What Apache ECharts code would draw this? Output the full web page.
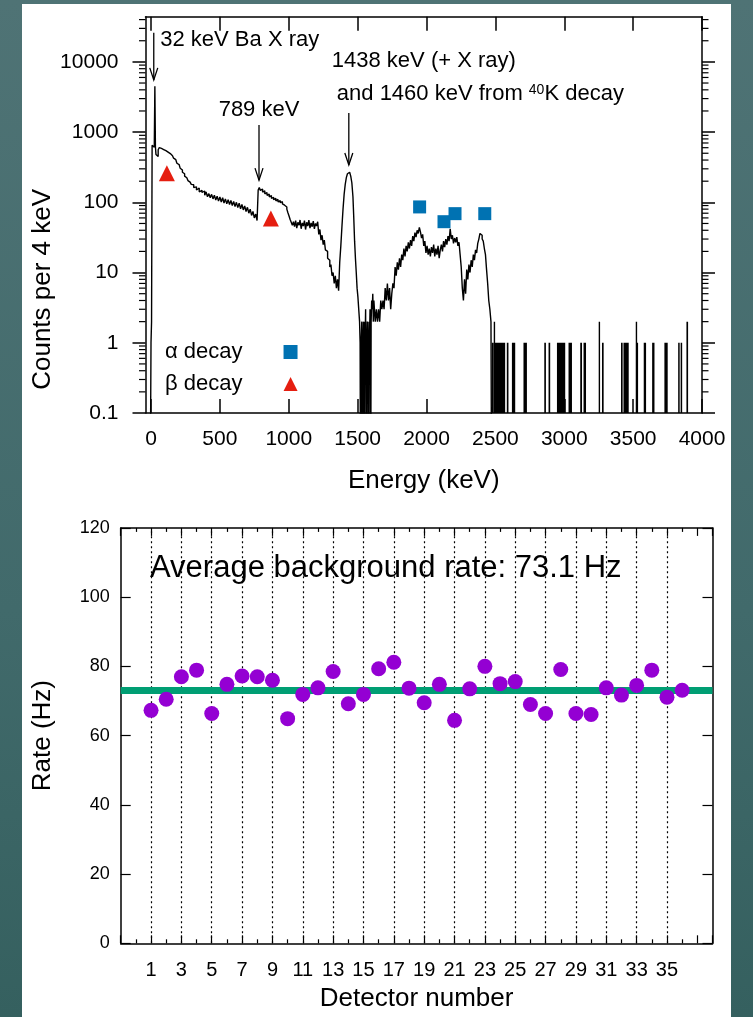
<!DOCTYPE html>
<html><head><meta charset="utf-8">
<script src="https://cdn.jsdelivr.net/npm/echarts@6/dist/echarts.min.js"></script>
<style>
html,body{margin:0;padding:0;width:753px;height:1017px;overflow:hidden;background:linear-gradient(180deg,#4f7375 0%,#416a6b 60%,#35605f 100%);}
#panel{position:absolute;left:22px;top:4px;width:709px;height:1013px;background:#fff;}
#chart{position:absolute;left:0;top:0;width:753px;height:1017px;}
</style></head><body><div id="panel"></div><div id="chart"></div>
<script>
// ---------- Top panel: energy spectrum [bin start keV, counts per 4 keV] ----------
const spectrumBins = [
 [-8,0],[0,1],[4,2],[8,650],[16,610],[24,680],[28,4500],[32,620],[36,480],[44,450],[52,560],
 [60,600],[68,585],[76,595],[84,565],[92,570],[100,545],[108,548],[116,520],[124,508],[132,495],
 [140,470],[148,462],[156,450],[164,425],[172,405],[180,385],[188,360],[196,345],[204,325],[212,305],
 [220,288],[228,268],[236,255],[244,236],[252,224],[260,210],[268,204],[276,194],[284,186],[292,180],
 [300,178],[310,162],[320,166],[330,150],[340,160],[350,141],[360,148],[370,138],[380,145],[390,126],
 [400,140],[410,120],[420,133],[430,116],[440,130],[450,112],[460,126],[470,108],[480,122],[490,104],
 [500,119],[510,101],[520,116],[530,98],[540,112],[550,95],[560,109],[570,93],[580,106],[590,90],
 [600,103],[610,87],[620,100],[630,84],[640,97],[650,81],[660,93],[670,78],[680,89],[690,74],
 [700,85],[710,70],[720,80],[730,65],[740,74],[750,60],[760,68],[770,55],
 [778,150],[786,162],[794,148],[802,155],[810,140],[818,146],[826,132],[834,138],[842,126],[850,131],
 [858,120],[866,125],[874,114],[882,118],[890,109],[898,114],[906,105],[914,110],[922,101],[930,106],
 [938,99],[946,102],[954,95],[962,91],[970,93],[978,86],[986,80],[994,71],[1002,64],[1010,57],
 [1018,52],[1026,47],[1034,53],[1042,45],[1050,55],[1058,43],[1066,52],[1074,47],[1082,56],[1090,42],
 [1098,51],[1106,46],[1114,55],[1122,41],[1130,52],[1138,46],[1146,56],[1154,43],[1162,51],[1170,45],
 [1178,54],[1186,42],[1194,50],[1202,46],[1210,53],[1218,35],[1226,41],[1234,29],[1242,34],[1250,25],
 [1258,29],[1266,21],[1274,20],[1282,16],[1290,15],[1298,12],[1306,13],[1314,9],[1322,10],[1330,7],
 [1338,9],[1346,6],[1354,8],[1362,5.5],[1370,14],[1378,24],[1386,45],[1394,80],[1402,130],[1410,180],
 [1418,225],[1426,255],[1434,268],[1442,258],[1450,236],[1458,190],[1466,120],[1472,60],[1478,28],[1484,16],
 [1490,10],[1496,6],[1502,4.5],[1508,3],[1514,2],
 [1518,1],[1522,0],[1526,1],[1530,2],[1534,0],[1538,1],[1542,2],[1546,0],[1550,2],[1554,1],
 [1558,3],[1562,0],[1566,1],[1570,2],[1574,1],[1578,0],[1582,2],[1586,1],[1590,3],[1594,0],
 [1598,2],[1602,4],[1606,3],[1610,5],[1614,2],[1618,4],[1622,3],[1628,2],[1636,3],[1644,2],
 [1652,3],[1660,2],[1668,4],
 [1676,3],[1684,4],[1692,3],[1700,6],[1708,4],[1716,7],[1724,4],[1732,6],[1740,3],[1748,5],
 [1756,7],[1764,6],[1772,12],[1780,9],[1788,14],[1796,11],[1804,16],[1812,12],[1820,18],[1828,15],
 [1836,22],[1844,17],[1852,24],[1860,20],[1868,27],[1876,22],[1884,29],[1892,24],[1900,33],[1908,28],
 [1916,37],[1924,32],[1932,40],[1940,36],[1948,44],[1956,38],[1964,31],[1972,35],[1980,24],[1988,28],
 [1996,19],[2004,24],[2012,18],[2020,22],[2028,17],[2036,23],[2044,19],[2052,25],[2060,17],[2068,22],
 [2076,18],[2084,24],[2092,16],[2100,21],[2108,25],[2116,20],[2124,28],[2132,23],[2140,30],[2148,25],
 [2156,33],[2164,28],[2172,42],[2180,30],[2188,34],[2196,26],[2204,31],[2212,27],[2220,32],[2228,24],
 [2236,27],[2244,18],[2252,12],[2260,6],[2268,4],[2276,8],[2284,5],[2292,11],[2300,8],[2308,13],
 [2316,10],[2324,15],[2332,12],[2340,18],[2348,15],[2356,21],[2364,19],[2372,26],[2380,30],[2388,36],
 [2396,34],[2404,30],[2412,28],[2420,22],[2428,18],[2436,11],[2444,7],[2452,4],[2460,3],[2468,2],[2474,0]
];
// sparse tail: runs of occupied bins [start keV, end keV, counts]
const tailStart  = [2474,2488,2492,2583,2620,2704,2855,2886,2947,3031,3116,3140,3250,3274,3412,3430,3519,3523,3577,3638,3727,3827,3845,3887];
const tailEnd    = [2488,2492,2571,2595,2644,2729,2867,2898,3007,3056,3129,3158,3254,3286,3424,3468,3523,3536,3594,3655,3751,3838,3856,3899];
const tailCounts = [1,2,1,1,1,1,1,1,1,1,1,1,2,1,1,1,2,1,1,1,1,1,1,2];
const alphaEnergy = [1950, 2127, 2207, 2423];
const alphaCounts = [86, 53, 69, 69];
const betaEnergy = [115, 870];
const betaCounts = [260, 59];
const energyTicks = [0, 500, 1000, 1500, 2000, 2500, 3000, 3500, 4000];
const countTicks = [0.1, 1, 10, 100, 1000, 10000];
const arrowEnergy = [20, 784, 1436];
const arrowFrom = [25900, 1260, 1870];
const arrowTo = [5540, 207, 340];
const arrowText = [['32 keV Ba X ray'], ['789 keV'], ['1438 keV (+ X ray)', 'and 1460 keV from {sup|40}K decay']];
// ---------- Bottom panel ----------
const detectors = [1,2,3,4,5,6,7,8,9,10,11,12,13,14,15,16,17,18,19,20,21,22,23,24,25,26,27,28,29,30,31,32,33,34,35,36];
const rates = [67.3,70.5,77.0,78.9,66.4,74.8,77.2,77.0,76.0,64.9,71.9,73.8,78.5,69.2,71.9,79.3,81.2,73.7,69.5,74.8,
               64.4,73.5,80.0,75.0,75.6,69.0,66.4,79.1,66.4,66.1,73.8,71.7,74.5,78.9,71.1,73.1];
const averageRate = 73.1;

const FONT = '"Liberation Sans", Arial, Helvetica, sans-serif';
const E_MIN = -40, E_MAX = 4000, C_MIN = 0.1, C_MAX = 44000;
const ZERO_FLOOR = 0.001; // empty bins drawn below the log axis floor

const minorCountTicks = [];
countTicks.forEach(d => { for (let m = 2; m <= 9; m++) { const v = +(d * m).toPrecision(6); if (v < C_MAX) minorCountTicks.push([E_MIN, v]); } });
const oddDetectors = detectors.filter(d => d % 2 === 1);

const arrowLabelLayout = [
  [{dx: 6.5, dy: 7, align: 'left'}],
  [{dx: 0, dy: -15, align: 'center'}],
  [{dx: -17, dy: -52, align: 'left'}, {dx: -12, dy: -19, align: 'left'}]
];

const black = '#000';
const axisLine = {show: true, onZero: false, lineStyle: {color: black, width: 1.5}};

const chart = echarts.init(document.getElementById('chart'), null, {renderer: 'canvas'});
chart.setOption({
  animation: false,
  backgroundColor: 'transparent',
  textStyle: {fontFamily: FONT},
  title: {
    text: 'Average background rate: ' + averageRate + ' Hz',
    left: 150, top: 553, padding: 0, z: 0,
    textStyle: {fontSize: 31, fontWeight: 'normal', color: black, fontFamily: FONT}
  },
  legend: {
    show: true, orient: 'vertical', left: 165, top: 340, align: 'right', padding: 0,
    itemWidth: 14, itemHeight: 14, itemGap: 8, selectedMode: false,
    textStyle: {fontSize: 22, color: black, fontFamily: FONT, lineHeight: 24, padding: [0, 36, 0, 0]},
    data: [{name: 'α decay', icon: 'rect'}, {name: 'β decay', icon: 'triangle'}]
  },
  grid: [
    {left: 145.5, right: 51, top: 16.7, bottom: 604, outerBoundsMode: 'none'},
    {left: 120.7, right: 40.5, top: 527.9, bottom: 73.7, outerBoundsMode: 'none'}
  ],
  xAxis: [
    {type: 'value', gridIndex: 0, min: E_MIN, max: E_MAX, position: 'bottom', axisLine,
     axisTick: {show: true, inside: true, length: 14, customValues: energyTicks, lineStyle: {color: black, width: 1.5}},
     axisLabel: {show: true, customValues: energyTicks, margin: 16, fontSize: 21, color: black, fontFamily: FONT,
                 formatter: v => String(v)},
     splitLine: {show: false},
     name: 'Energy (keV)', nameLocation: 'middle', nameGap: 55, nameMoveOverlap: false,
     nameTextStyle: {fontSize: 26, color: black, fontFamily: FONT}},
    {type: 'value', gridIndex: 0, min: E_MIN, max: E_MAX, position: 'top', axisLine,
     axisTick: {show: true, inside: true, length: 14, customValues: energyTicks, lineStyle: {color: black, width: 1.5}},
     axisLabel: {show: false}, splitLine: {show: false}},
    {type: 'value', gridIndex: 1, min: -1, max: 38, interval: 2, position: 'bottom', axisLine,
     axisTick: {show: true, inside: true, length: 8, lineStyle: {color: black, width: 1.2}},
     minorTick: {show: true, splitNumber: 2, length: 4, lineStyle: {color: black, width: 1.2}},
     axisLabel: {show: true, margin: 17, fontSize: 20, color: black, fontFamily: FONT,
                 formatter: v => (v >= 1 && v <= 35) ? String(v) : ''},
     splitLine: {show: false},
     name: 'Detector number', nameLocation: 'middle', nameGap: 43, nameMoveOverlap: false,
     nameTextStyle: {fontSize: 26, color: black, fontFamily: FONT}},
    {type: 'value', gridIndex: 1, min: -1, max: 38, interval: 2, position: 'top', axisLine,
     axisTick: {show: true, inside: true, length: 8, lineStyle: {color: black, width: 1.2}},
     minorTick: {show: true, splitNumber: 2, length: 4, lineStyle: {color: black, width: 1.2}},
     axisLabel: {show: false}, splitLine: {show: false}}
  ],
  yAxis: [
    {type: 'log', logBase: 10, gridIndex: 0, min: C_MIN, max: C_MAX, position: 'left', axisLine,
     axisTick: {show: true, inside: false, length: 13, customValues: countTicks, lineStyle: {color: black, width: 1.5}},
     axisLabel: {show: true, customValues: countTicks, margin: 27, fontSize: 21, color: black, fontFamily: FONT,
                 formatter: v => String(Number((+v).toPrecision(6)))},
     splitLine: {show: false}, minorTick: {show: false},
     name: 'Counts per 4 keV', nameLocation: 'middle', nameGap: 90, nameRotate: 90, nameMoveOverlap: false,
     nameTextStyle: {fontSize: 26, color: black, fontFamily: FONT, padding: [0, 149, 0, 0]}},
    {type: 'log', logBase: 10, gridIndex: 0, min: C_MIN, max: C_MAX, position: 'right', axisLine,
     axisTick: {show: true, inside: false, length: 13, customValues: countTicks, lineStyle: {color: black, width: 1.5}},
     axisLabel: {show: false}, splitLine: {show: false}, minorTick: {show: false}},
    {type: 'value', gridIndex: 1, min: 0, max: 120, interval: 20, position: 'left', axisLine,
     axisTick: {show: true, inside: true, length: 10, lineStyle: {color: black, width: 1.2}},
     axisLabel: {show: true, margin: 11, fontSize: 18, color: black, fontFamily: FONT},
     splitLine: {show: false},
     name: 'Rate (Hz)', nameLocation: 'middle', nameGap: 65, nameRotate: 90, nameMoveOverlap: false,
     nameTextStyle: {fontSize: 26, color: black, fontFamily: FONT}},
    {type: 'value', gridIndex: 1, min: 0, max: 120, interval: 20, position: 'right', axisLine,
     axisTick: {show: true, inside: true, length: 10, lineStyle: {color: black, width: 1.2}},
     axisLabel: {show: false}, splitLine: {show: false}}
  ],
  series: [
    {type: 'line', name: 'spectrum', xAxisIndex: 0, yAxisIndex: 0, step: 'end', symbol: 'none', showSymbol: false,
     clip: true, silent: true, z: 2,
     lineStyle: {color: black, width: 1.4},
     data: spectrumBins.map(b => [b[0], b[1] === 0 ? ZERO_FLOOR : b[1]])},
    {type: 'custom', name: 'tail', xAxisIndex: 0, yAxisIndex: 0, clip: true, silent: true, z: 2,
     encode: {x: [0, 1], y: 2},
     data: tailStart.map((s, i) => [s, tailEnd[i], tailCounts[i]]),
     renderItem: (params, api) => {
       const p0 = api.coord([api.value(0), C_MIN]);
       const p1 = api.coord([api.value(1), api.value(2)]);
       const w = Math.max(p1[0] - p0[0], 1.4);
       return {type: 'rect', shape: {x: p0[0], y: p1[1], width: w, height: p0[1] - p1[1]}, style: {fill: black}};
     }},
    {type: 'custom', name: 'minorTicks', xAxisIndex: 0, yAxisIndex: 0, clip: false, silent: true, z: 3,
     encode: {x: 0, y: 1},
     data: minorCountTicks,
     renderItem: (params, api) => {
       const pl = api.coord([E_MIN, api.value(1)]);
       const pr = api.coord([E_MAX, api.value(1)]);
       return {type: 'group', children: [
         {type: 'line', shape: {x1: pl[0] - 6.5, y1: pl[1], x2: pl[0], y2: pl[1]}, style: {stroke: black, lineWidth: 1.2}},
         {type: 'line', shape: {x1: pr[0], y1: pr[1], x2: pr[0] + 6.5, y2: pr[1]}, style: {stroke: black, lineWidth: 1.2}}
       ]};
     }},
    {type: 'custom', name: 'arrows', xAxisIndex: 0, yAxisIndex: 0, clip: false, silent: true, z: 4,
     encode: {x: 0, y: [1, 2]},
     data: arrowEnergy.map((e, i) => [e, arrowFrom[i], arrowTo[i]]),
     renderItem: (params, api) => {
       const top = api.coord([api.value(0), api.value(1)]);
       const tip = api.coord([api.value(0), api.value(2)]);
       const x = top[0];
       const children = [
         {type: 'line', shape: {x1: x, y1: top[1], x2: x, y2: tip[1]}, style: {stroke: black, lineWidth: 1.3}},
         {type: 'polyline', shape: {points: [[x - 4, tip[1] - 12], [x, tip[1]], [x + 4, tip[1] - 12]]},
          style: {stroke: black, lineWidth: 1.3, fill: null}}
       ];
       const lines = arrowText[params.dataIndex];
       const lay = arrowLabelLayout[params.dataIndex];
       lines.forEach((t, k) => {
         children.push({type: 'text', x: x + lay[k].dx, y: top[1] + lay[k].dy,
           style: {text: t, fill: black, font: '22px ' + FONT, align: lay[k].align, verticalAlign: 'middle',
                   rich: {sup: {fontSize: 14, fontFamily: FONT, fill: black, verticalAlign: 'top', lineHeight: 22}}}});
       });
       return {type: 'group', children};
     }},
    {type: 'scatter', name: 'α decay', xAxisIndex: 0, yAxisIndex: 0, symbol: 'rect', symbolSize: 13, z: 5,
     itemStyle: {color: '#0072b2', opacity: 1}, data: alphaEnergy.map((e, i) => [e, alphaCounts[i]])},
    {type: 'scatter', name: 'β decay', xAxisIndex: 0, yAxisIndex: 0, symbol: 'triangle', symbolSize: 16, z: 5,
     itemStyle: {color: '#e51e10', opacity: 1}, data: betaEnergy.map((e, i) => [e, betaCounts[i]])},
    {type: 'line', name: 'grid', xAxisIndex: 2, yAxisIndex: 2, data: [], z: 1, silent: true,
     markLine: {silent: true, symbol: ['none', 'none'], label: {show: false}, animation: false, z: 1,
                lineStyle: {type: [2, 3], color: black, width: 1.2},
                emphasis: {disabled: true},
                data: oddDetectors.map(d => ({xAxis: d}))}},
    {type: 'line', name: 'average', xAxisIndex: 2, yAxisIndex: 2, data: [], z: 4, silent: true,
     markLine: {silent: true, symbol: ['none', 'none'], label: {show: false}, animation: false, z: 4,
                lineStyle: {type: 'solid', color: '#009e73', width: 7},
                emphasis: {disabled: true},
                data: [{yAxis: averageRate}]}},
    {type: 'scatter', name: 'rates', xAxisIndex: 2, yAxisIndex: 2, symbol: 'circle', symbolSize: 15, z: 10,
     itemStyle: {color: '#9400d3', opacity: 1}, data: detectors.map((d, i) => [d, rates[i]])}
  ]
});
</script></body></html>
